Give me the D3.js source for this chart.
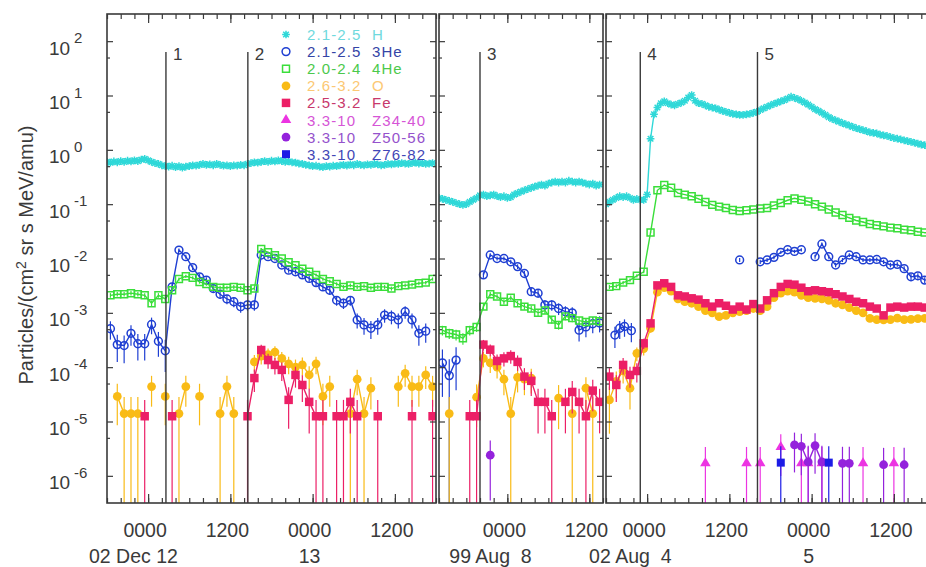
<!DOCTYPE html>
<html>
<head>
<meta charset="utf-8">
<script src="https://cdn.jsdelivr.net/npm/d3@7"></script>
<style>
  body { margin: 0; background: #fff; }
  svg { display: block; font-family: "Liberation Sans", Arial, Helvetica, sans-serif; }
</style>
</head>
<body>
<svg id="chart" width="926" height="567"></svg>
<script>
// time windows of the three panels (UTC)
const panelStart = ['2002-12-11T18:00Z', '1999-08-07T14:00Z', '2002-08-03T18:00Z']
const panelEnd = ['2002-12-13T18:00Z', '1999-08-08T14:00Z', '2002-08-05T18:00Z']
const panelDay = ['2002-12-12T00:00Z', '1999-08-08T00:00Z', '2002-08-04T00:00Z']
const dateLabels = [['02 Dec 12', '13'], ['99 Aug  8'], ['02 Aug  4', '5']]
const eventHours = [[2.6, 14.55], [-4.0], [-1.0, 16.1]]
const eventNames = [['1', '2'], ['3'], ['4', '5']]
const yTickExps = [2, 1, 0, -1, -2, -3, -4, -5, -6]

const legendRanges = ['2.1-2.5', '2.1-2.5', '2.0-2.4', '2.6-3.2', '2.5-3.2', '3.3-10', '3.3-10', '3.3-10']
const legendNames = ['H', '3He', '4He', 'O', 'Fe', 'Z34-40', 'Z50-56', 'Z76-82']

// hours are counted from 0000 of panelDay
// H is a half-hour series, the rest are hourly points [hour, value]
const p1H = [0.60, 0.58, 0.61, 0.59, 0.62, 0.60, 0.63, 0.61, 0.64, 0.62, 0.66, 0.68,
  0.64, 0.60, 0.57, 0.55, 0.52, 0.50,
  0.49, 0.51, 0.48, 0.50, 0.47, 0.49, 0.50, 0.52, 0.51, 0.53,
  0.55, 0.53, 0.54, 0.52, 0.55, 0.53, 0.51, 0.52, 0.50, 0.52, 0.51, 0.53, 0.52, 0.55,
  0.57, 0.59, 0.58, 0.60, 0.62, 0.60, 0.63, 0.61, 0.64, 0.62, 0.60, 0.61, 0.59, 0.58,
  0.56, 0.55, 0.53, 0.52, 0.50, 0.51, 0.49, 0.48, 0.50, 0.49, 0.51, 0.50,
  0.52, 0.53, 0.51, 0.54, 0.52, 0.55, 0.53, 0.52, 0.54, 0.53, 0.55, 0.54, 0.52, 0.53, 0.55, 0.54,
  0.56, 0.55, 0.57, 0.56, 0.55, 0.57, 0.58, 0.56, 0.57, 0.55, 0.56, 0.57]
const p1He3 = [[-5.5, 5.1e-4], [-4.5, 2.6e-4], [-3.5, 2.5e-4], [-2.5, 4.2e-4], [-1.5, 2.7e-4], [-0.5, 2.7e-4],
  [0.5, 6.1e-4], [1.5, 3.0e-4], [2.5, 2.0e-4], [3.5, 3.0e-3], [4.5, 1.43e-2], [5.5, 1.08e-2], [6.5, 6.8e-3],
  [7.5, 4.6e-3], [8.5, 4.0e-3], [9.5, 2.8e-3], [10.5, 2.2e-3], [11.5, 1.8e-3], [12.5, 1.6e-3], [13.5, 1.3e-3],
  [14.5, 1.4e-3], [15.5, 1.4e-3], [16.5, 1.16e-2], [17.5, 1.08e-2], [18.5, 1.0e-2], [19.5, 7.6e-3],
  [20.5, 6.1e-3], [21.5, 5.7e-3], [22.5, 5.0e-3], [23.5, 4.3e-3], [24.5, 3.6e-3], [25.5, 3.0e-3],
  [26.5, 2.6e-3], [27.5, 1.7e-3], [28.5, 1.5e-3], [29.5, 1.7e-3], [30.5, 7.4e-4], [31.5, 6.0e-4],
  [32.5, 5.2e-4], [33.5, 6.0e-4], [34.5, 9.1e-4], [35.5, 8.6e-4], [36.5, 7.4e-4], [37.5, 1.05e-3],
  [38.5, 7.4e-4], [39.5, 4.2e-4], [40.5, 4.6e-4]]
const p1He4 = [[-5.5, 2.1e-3], [-4.5, 2.2e-3], [-3.5, 2.2e-3], [-2.5, 2.3e-3], [-1.5, 2.2e-3], [-0.5, 2.1e-3],
  [0.5, 1.5e-3], [1.5, 2.1e-3], [2.5, 1.8e-3], [3.5, 2.6e-3], [4.5, 4.2e-3], [5.5, 4.7e-3], [6.5, 4.4e-3],
  [7.5, 3.7e-3], [8.5, 3.4e-3], [9.5, 3.0e-3], [10.5, 2.9e-3], [11.5, 2.9e-3], [12.5, 3.0e-3], [13.5, 2.9e-3],
  [14.5, 2.6e-3], [15.5, 2.8e-3], [16.5, 1.5e-2], [17.5, 1.3e-2], [18.5, 1.15e-2], [19.5, 1.0e-2],
  [20.5, 8.5e-3], [21.5, 7.5e-3], [22.5, 6.5e-3], [23.5, 5.7e-3], [24.5, 5.0e-3], [25.5, 4.2e-3],
  [26.5, 3.8e-3], [27.5, 3.4e-3], [28.5, 3.0e-3], [29.5, 3.2e-3], [30.5, 3.0e-3], [31.5, 3.1e-3],
  [32.5, 2.9e-3], [33.5, 3.0e-3], [34.5, 3.0e-3], [35.5, 2.8e-3], [36.5, 3.1e-3], [37.5, 3.2e-3],
  [38.5, 3.3e-3], [39.5, 3.5e-3], [40.5, 3.6e-3], [41.5, 4.2e-3]]
const p1O = [[-4.5, 2.9e-5], [-3.5, 1.4e-5], [-2.5, 1.4e-5], [-1.5, 1.4e-5], [0.5, 4.4e-5], [2.5, 2.9e-5],
  [4.5, 1.4e-5], [5.5, 4.4e-5], [7.5, 2.9e-5], [10.5, 1.4e-5], [11.5, 4.4e-5], [12.5, 1.4e-5],
  [15.5, 1.25e-4], [16.5, 1.6e-4], [17.5, 1.7e-4], [18.5, 1.9e-4], [19.5, 1.45e-4], [20.5, 1.15e-4],
  [21.5, 1.0e-4], [22.5, 1.1e-4], [23.5, 7.2e-5], [24.5, 1.15e-4], [25.5, 2.9e-5], [26.5, 4.4e-5],
  [29.5, 1.4e-5], [30.5, 6.0e-5], [31.5, 1.4e-5], [32.5, 4.1e-5], [36.5, 4.4e-5], [37.5, 7.7e-5],
  [38.5, 4.4e-5], [39.5, 4.4e-5], [40.5, 7.2e-5], [41.5, 4.4e-5]]
const p1Fe = [[-0.5, 1.25e-5], [3.5, 1.25e-5], [14.5, 1.25e-5], [15.5, 6.3e-5], [16.5, 2.07e-4], [17.5, 1.35e-4],
  [18.5, 1.1e-4], [19.5, 8.9e-5], [20.5, 2.5e-5], [21.5, 7.2e-5], [22.5, 4.7e-5], [23.5, 2.3e-5],
  [24.5, 1.25e-5], [25.5, 1.25e-5], [27.5, 1.25e-5], [28.5, 1.25e-5], [29.5, 2.3e-5], [30.5, 1.25e-5],
  [33.5, 1.25e-5], [38.5, 1.25e-5], [41.5, 1.25e-5]]

const p2H = [0.13, 0.125, 0.12, 0.115, 0.11, 0.105,
  0.10, 0.097, 0.10, 0.11, 0.12, 0.13,
  0.145, 0.15, 0.14, 0.145, 0.15, 0.14, 0.135, 0.14,
  0.13, 0.135, 0.15, 0.16, 0.17, 0.18, 0.19, 0.20,
  0.21, 0.22, 0.23, 0.22, 0.24, 0.25, 0.26, 0.25,
  0.26, 0.25, 0.27, 0.26, 0.25, 0.26, 0.25, 0.24,
  0.23, 0.24, 0.22, 0.23]
const p2He3 = [[-9.5, 1.2e-4], [-8.5, 7.0e-5], [-7.5, 1.35e-4], [-3.5, 5.0e-3], [-2.5, 1.16e-2], [-1.5, 1.0e-2],
  [-0.5, 1.0e-2], [0.5, 8.7e-3], [1.5, 7.1e-3], [2.5, 5.3e-3], [3.5, 2.45e-3], [4.5, 2.3e-3], [5.5, 1.4e-3],
  [6.5, 1.4e-3], [7.5, 1.2e-3], [8.5, 1.05e-3], [9.5, 1.0e-3], [10.5, 4.8e-4], [11.5, 5.5e-4], [12.5, 6.3e-4],
  [13.5, 6.5e-4]]
const p2He4 = [[-9.5, 4.8e-4], [-8.5, 4.2e-4], [-7.5, 4.0e-4], [-6.5, 3.4e-4], [-5.5, 4.8e-4], [-4.5, 5.5e-4],
  [-3.5, 1.3e-3], [-2.5, 2.2e-3], [-1.5, 2.0e-3], [-0.5, 1.6e-3], [0.5, 1.9e-3], [1.5, 1.5e-3], [2.5, 1.3e-3],
  [3.5, 1.2e-3], [4.5, 1.0e-3], [5.5, 1.1e-3], [6.5, 7.5e-4], [7.5, 6.0e-4], [8.5, 8.6e-4], [9.5, 8.0e-4],
  [10.5, 7.2e-4], [11.5, 6.8e-4], [12.5, 7.2e-4], [13.5, 7.0e-4]]
const p2O = [[-8.5, 1.4e-5], [-4.5, 2.8e-5], [-3.5, 1.45e-4], [-2.5, 1.2e-4], [-1.5, 1.0e-4], [-0.5, 6.0e-5],
  [0.5, 1.4e-5], [1.5, 6.5e-5], [2.5, 6.0e-5], [3.5, 6.3e-5], [7.5, 2.7e-5], [9.5, 1.4e-5], [11.5, 4.1e-5],
  [12.5, 1.4e-5]]
const p2Fe = [[-5.5, 1.25e-5], [-4.5, 1.25e-5], [-3.5, 2.6e-4], [-2.5, 2.1e-4], [-1.5, 1.3e-4], [-0.5, 1.45e-4],
  [0.5, 1.6e-4], [1.5, 1.25e-4], [2.5, 6.7e-5], [3.5, 5.6e-5], [4.5, 2.3e-5], [5.5, 2.3e-5], [6.5, 1.25e-5],
  [8.5, 2.3e-5], [9.5, 3.5e-5], [10.5, 2.3e-5], [11.5, 1.25e-5], [12.5, 3.7e-5], [13.5, 2.3e-5]]
const p2Z50 = [[-2.5, 2.4e-6]]

const p3H = [0.10, 0.11, 0.12, 0.13, 0.14, 0.135, 0.14, 0.13, 0.12, 0.125, 0.12, 0.12,
  0.15, 1.6, 4.5, 6.0, 7.2, 7.8,
  7.2, 6.8, 6.6, 7.0, 7.4, 8.0, 9.2, 10.2, 8.0, 7.2,
  7.0, 6.6, 6.2, 6.0, 5.8, 5.5, 5.2, 5.0, 4.8, 4.6, 4.5, 4.4, 4.4, 4.5,
  4.6, 4.8, 5.0, 5.4, 5.8, 6.2, 6.6, 7.0, 7.4, 7.8, 8.2, 8.8, 9.5, 9.0,
  8.6, 8.0, 7.4, 6.8, 6.2, 5.6, 5.2, 4.8, 4.4, 4.0, 3.7, 3.5,
  3.3, 3.1, 2.95, 2.8, 2.65, 2.5, 2.4, 2.3, 2.2, 2.1, 2.05, 2.0, 1.9, 1.85, 1.8, 1.72,
  1.65, 1.6, 1.55, 1.5, 1.45, 1.4, 1.35, 1.3, 1.25, 1.22, 1.18, 1.15]
const p3He3 = [[-4.7, 3.9e-4], [-4.0, 5.2e-4], [-3.3, 5.6e-4], [-2.3, 4.7e-4], [13.5, 9.4e-3],
  [16.5, 8.7e-3], [17.5, 9.4e-3], [18.5, 1.05e-2], [19.5, 1.3e-2], [20.5, 1.45e-2], [21.5, 1.35e-2],
  [22.5, 1.45e-2], [24.5, 1.08e-2], [25.5, 1.85e-2], [26.5, 1.08e-2], [27.5, 7.6e-3], [28.5, 9.4e-3],
  [29.5, 1.16e-2], [30.5, 1.08e-2], [31.5, 9.4e-3], [32.5, 9.4e-3], [33.5, 9.6e-3], [34.5, 8.7e-3],
  [35.5, 7.6e-3], [36.5, 7.8e-3], [37.5, 6.5e-3], [38.5, 4.6e-3], [39.5, 4.8e-3], [40.5, 4.0e-3],
  [41.5, 4.2e-3]]
const p3He4 = [3.0e-3, 3.1e-3, 3.6e-3, 4.0e-3, 4.8e-3, 5.7e-3,
  3.0e-2, 0.18, 0.225, 0.20, 0.16, 0.15, 0.14, 0.125, 0.11, 0.097,
  0.09, 0.085, 0.078, 0.075, 0.077, 0.08, 0.083, 0.085, 0.095, 0.105,
  0.118, 0.128, 0.12, 0.112, 0.10, 0.09, 0.08, 0.07, 0.063, 0.056,
  0.05, 0.047, 0.043, 0.041, 0.039, 0.037, 0.036, 0.034, 0.033, 0.031, 0.030, 0.029]
const p3O = [2.5e-5, 5.5e-5, 8.5e-5, 4.1e-5, 1.8e-4, 2.2e-4,
  5.2e-4, 2.4e-3, 2.9e-3, 2.5e-3, 1.8e-3, 1.6e-3, 1.5e-3, 1.3e-3, 1.1e-3, 1.0e-3,
  8.5e-4, 9.0e-4, 1.0e-3, 1.05e-3, 1.1e-3, 1.2e-3, 1.1e-3, 1.3e-3, 1.9e-3, 2.3e-3,
  2.5e-3, 2.4e-3, 2.1e-3, 1.9e-3, 1.85e-3, 1.8e-3, 1.7e-3, 1.5e-3, 1.4e-3, 1.25e-3,
  1.1e-3, 1.0e-3, 7.9e-4, 7.5e-4, 7.4e-4, 7.5e-4, 8.0e-4, 7.5e-4, 7.6e-4, 7.8e-4, 7.9e-4, 8.0e-4]
const p3Fe = [6.7e-5, 4.7e-5, 1.1e-4, 7.2e-5, 8.5e-5, 2.75e-4,
  6.4e-4, 3.2e-3, 3.5e-3, 3.0e-3, 2.1e-3, 2.0e-3, 1.85e-3, 1.75e-3, 1.5e-3, 1.3e-3,
  1.5e-3, 1.35e-3, 1.15e-3, 1.3e-3, 1.15e-3, 1.45e-3, 1.2e-3, 1.7e-3, 2.3e-3, 3.0e-3,
  3.4e-3, 3.3e-3, 2.9e-3, 2.5e-3, 2.6e-3, 2.5e-3, 2.4e-3, 2.2e-3, 2.0e-3, 1.8e-3,
  1.6e-3, 1.5e-3, 1.3e-3, 1.2e-3, 9.0e-4, 1.25e-3, 1.3e-3, 1.25e-3, 1.3e-3, 1.3e-3, 1.25e-3, 1.3e-3]
const p3Z34 = [[8.5, 1.7e-6], [14.5, 1.7e-6], [16.5, 1.7e-6], [19.5, 3.4e-6], [22.5, 1.7e-6], [23.5, 1.7e-6],
  [25.5, 1.7e-6], [31.5, 1.7e-6], [36.0, 1.7e-6]]
const p3Z50 = [[21.5, 3.7e-6], [22.5, 3.5e-6], [23.5, 1.8e-6], [24.5, 3.6e-6], [25.5, 1.8e-6], [28.5, 1.7e-6],
  [29.5, 1.7e-6], [34.5, 1.6e-6], [37.5, 1.6e-6]]
const p3Z76 = [[19.5, 1.75e-6], [26.5, 1.75e-6]]

const run = (start, step, values) => values.map((v, i) => [start + i * step, v])

const panelSeries = [
  { H: run(-6, 0.5, p1H), He3: p1He3, He4: p1He4, O: p1O, Fe: p1Fe },
  { H: run(-10, 0.5, p2H), He3: p2He3, He4: p2He4, O: p2O, Fe: p2Fe, Z50: p2Z50 },
  { H: run(-6, 0.5, p3H), He3: p3He3, He4: run(-5.5, 1, p3He4), O: run(-5.5, 1, p3O),
    Fe: run(-5.5, 1, p3Fe), Z34: p3Z34, Z50: p3Z50, Z76: p3Z76 }
]

// drawing
const asterisk = {
  draw(ctx, size) {
    const r = Math.sqrt(size) / 2, d = r * 0.72
    ctx.moveTo(-r, 0); ctx.lineTo(r, 0)
    ctx.moveTo(0, -r); ctx.lineTo(0, r)
    ctx.moveTo(-d, -d); ctx.lineTo(d, d)
    ctx.moveTo(-d, d); ctx.lineTo(d, -d)
  }
}
const shapes = { star: asterisk, circle: d3.symbolCircle, square: d3.symbolSquare, triangle: d3.symbolTriangle }

const speciesOrder = ['H', 'He3', 'He4', 'O', 'Fe', 'Z34', 'Z50', 'Z76']
const look = {
  H: { color: '#2fd8d8', text: '#6fd9dd', shape: 'star', size: 60, open: true, unit: 0 },
  He3: { color: '#1f3fd2', text: '#3444a6', shape: 'circle', size: 48, open: true, unit: 7e-5 },
  He4: { color: '#3ade3a', text: '#4cc94c', shape: 'square', size: 48, open: true, unit: 2e-5 },
  O: { color: '#f9bb16', text: '#fcc873', shape: 'circle', size: 60, open: false, unit: 1.45e-5 },
  Fe: { color: '#ec1f66', text: '#c8386c', shape: 'square', size: 72, open: false, unit: 1.25e-5 },
  Z34: { color: '#ec34e2', text: '#d655d6', shape: 'triangle', size: 48, open: false, unit: 1.7e-6 },
  Z50: { color: '#9422dc', text: '#9552cc', shape: 'circle', size: 60, open: false, unit: 1.75e-6 },
  Z76: { color: '#1c1ce6', text: '#4246b6', shape: 'square', size: 64, open: false, unit: 1.75e-6 }
}

const ink = '#3a3a3a'
const plotTop = 14, plotBottom = 503
const panelLeft = [107, 439, 606], panelRight = [436, 603, 935]

const svg = d3.select('#chart')
const y = d3.scaleLog().domain([10 ** -6.5, 10 ** 2.5]).range([plotBottom, plotTop])
const hourAt = (p, h) => new Date(Date.parse(panelDay[p]) + h * 36e5)

const tidy = g => {
  g.select('.domain').remove()
  g.selectAll('line').attr('stroke', ink).attr('stroke-width', 1.2)
}

panelSeries.forEach((series, p) => {
  const x = d3.scaleUtc()
    .domain([new Date(panelStart[p]), new Date(panelEnd[p])])
    .range([panelLeft[p], panelRight[p]])

  svg.append('clipPath').attr('id', 'clip' + p).append('rect')
    .attr('x', panelLeft[p]).attr('y', plotTop)
    .attr('width', panelRight[p] - panelLeft[p]).attr('height', plotBottom - plotTop)

  const g = svg.append('g').attr('clip-path', `url(#clip${p})`)

  speciesOrder.forEach(key => {
    const pts = series[key]
    if (!pts) return
    const st = look[key]
    const px = d => x(hourAt(p, d[0]))

    const gapped = []
    pts.forEach((d, i) => {
      if (i && d[0] - pts[i - 1][0] > 1.05) gapped.push(null)
      gapped.push(d)
    })
    g.append('path').datum(gapped)
      .attr('fill', 'none')
      .attr('stroke', st.color)
      .attr('stroke-width', 1.4)
      .attr('d', d3.line().defined(d => d).x(px).y(d => y(d[1])))

    if (st.unit) {
      g.append('g').selectAll('line').data(pts).join('line')
        .attr('x1', px).attr('x2', px)
        .attr('y1', d => {
          const lo = d[1] * (1 - Math.sqrt(st.unit / d[1]))
          return lo > 0 ? y(lo) : plotBottom
        })
        .attr('y2', d => y(d[1] * (1 + Math.sqrt(st.unit / d[1]))))
        .attr('stroke', st.color)
        .attr('stroke-width', 1.2)
    }

    g.append('g').selectAll('path').data(pts).join('path')
      .attr('transform', d => `translate(${px(d)},${y(d[1])})`)
      .attr('d', d3.symbol(shapes[st.shape], st.size))
      .attr('fill', st.open ? 'none' : st.color)
      .attr('stroke', st.color)
      .attr('stroke-width', st.open ? 1.5 : 0)
  })

  // axes: inward ticks on all four sides
  const axes = svg.append('g')
  axes.append('g').attr('transform', `translate(0,${plotBottom})`)
    .call(d3.axisBottom(x).ticks(d3.utcHour.every(2)).tickSize(-5).tickFormat('')).call(tidy)
  axes.append('g').attr('transform', `translate(0,${plotBottom})`)
    .call(d3.axisBottom(x).ticks(d3.utcHour.every(12)).tickSize(-9).tickFormat('')).call(tidy)
  axes.append('g').attr('transform', `translate(0,${plotTop})`)
    .call(d3.axisTop(x).ticks(d3.utcHour.every(2)).tickSize(-5).tickFormat('')).call(tidy)
  axes.append('g').attr('transform', `translate(0,${plotTop})`)
    .call(d3.axisTop(x).ticks(d3.utcHour.every(12)).tickSize(-9).tickFormat('')).call(tidy)

  const majors = yTickExps.map(e => 10 ** e)
  const minors = yTickExps.map(e => 5 * 10 ** e).filter(v => v < 10 ** 2.5)
  ;[[d3.axisLeft, panelLeft[p]], [d3.axisRight, panelRight[p]]].forEach(([axis, at]) => {
    axes.append('g').attr('transform', `translate(${at},0)`)
      .call(axis(y).tickValues(majors).tickSize(-6).tickFormat('')).call(tidy)
    axes.append('g').attr('transform', `translate(${at},0)`)
      .call(axis(y).tickValues(minors).tickSize(-3).tickFormat('')).call(tidy)
  })

  axes.append('rect')
    .attr('x', panelLeft[p]).attr('y', plotTop)
    .attr('width', panelRight[p] - panelLeft[p]).attr('height', plotBottom - plotTop)
    .attr('fill', 'none').attr('stroke', ink).attr('stroke-width', 1.6)

  // hour labels and date labels
  const noons = x.ticks(d3.utcHour.every(12))
  axes.selectAll('text.hour').data(noons).join('text')
    .attr('class', 'hour')
    .attr('x', d => x(d) - 3).attr('y', 537)
    .attr('text-anchor', 'middle').attr('font-size', 19.5).attr('fill', ink)
    .text(d3.utcFormat('%H%M'))

  const midnights = noons.filter(d => d.getUTCHours() === 0)
  midnights.forEach((d, k) => {
    const label = dateLabels[p][k]
    const day = label.split(' ').pop()
    const long = label.length > day.length
    axes.append('text')
      .attr('x', long ? x(d) + 19 + 5.4 * day.length : x(d) - 3).attr('y', 563)
      .attr('text-anchor', long ? 'end' : 'middle')
      .style('white-space', 'pre')
      .attr('font-size', 19.5).attr('fill', ink).text(label)
  })

  // event markers
  eventHours[p].forEach((h, k) => {
    const ex = x(hourAt(p, h))
    axes.append('line')
      .attr('x1', ex).attr('x2', ex).attr('y1', 52).attr('y2', plotBottom)
      .attr('stroke', ink).attr('stroke-width', 1.4)
    axes.append('text').attr('x', ex + 7).attr('y', 60)
      .attr('font-size', 17).attr('fill', ink).text(eventNames[p][k])
  })
})

// y tick labels (10 with superscript exponent)
const yLabels = svg.append('g').attr('fill', ink)
yTickExps.forEach(e => {
  const yy = y(10 ** e)
  yLabels.append('text').attr('x', 49).attr('y', yy + 13.5).attr('font-size', 19).text('10')
  yLabels.append('text').attr('x', 74).attr('y', yy + 2).attr('font-size', 15).text(e < 0 ? '-' + (-e) : e)
})

// y title
svg.append('text')
  .attr('transform', 'translate(33,255) rotate(-90)')
  .attr('text-anchor', 'middle').attr('font-size', 20).attr('fill', ink)
  .call(t => {
    t.append('tspan').text('Particles/(cm')
    t.append('tspan').attr('dy', -7).attr('font-size', 14).text('2')
    t.append('tspan').attr('dy', 7).text(' sr s MeV/amu)')
  })

// legend (rows are tight, so the text is widened with letter spacing)
const legend = svg.append('g')
speciesOrder.forEach((key, i) => {
  const st = look[key]
  const ry = 34.5 + i * 17.1
  legend.append('path')
    .attr('transform', `translate(286,${ry})`)
    .attr('d', d3.symbol(shapes[st.shape], st.size))
    .attr('fill', st.open ? 'none' : st.color)
    .attr('stroke', st.color).attr('stroke-width', st.open ? 1.5 : 0)
  legend.append('text').attr('x', 307).attr('y', ry + 5.5)
    .attr('font-size', 15).attr('letter-spacing', 1.1).attr('fill', st.text).text(legendRanges[i])
  legend.append('text').attr('x', 372).attr('y', ry + 5.5)
    .attr('font-size', 15).attr('letter-spacing', 1.1).attr('fill', st.text).text(legendNames[i])
})
</script>
</body>
</html>
